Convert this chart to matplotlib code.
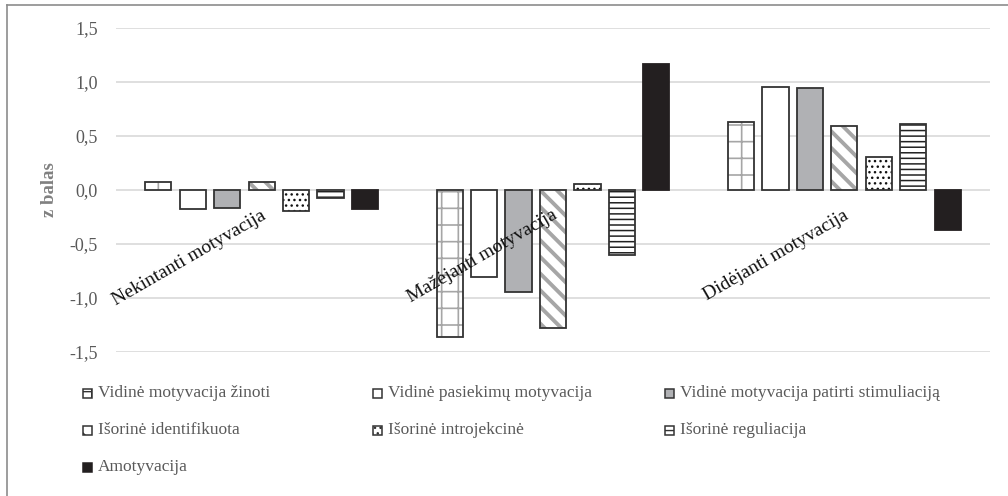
import matplotlib.pyplot as plt
from matplotlib.patches import Rectangle
from matplotlib.lines import Line2D
from matplotlib.ticker import FuncFormatter

plt.rcParams['font.family'] = ['Liberation Serif', 'DejaVu Serif']

# data
categories = ['Nekintanti motyvacija', 'Mažėjanti motyvacija', 'Didėjanti motyvacija']
series_names = ['Vidinė motyvacija žinoti', 'Vidinė pasiekimų motyvacija',
                'Vidinė motyvacija patirti stimuliaciją', 'Išorinė identifikuota',
                'Išorinė introjekcinė', 'Išorinė reguliacija', 'Amotyvacija']
vid_zinoti = [0.07, -1.36, 0.63]
vid_pasiekimu = [-0.18, -0.81, 0.95]
vid_stimuliacija = [-0.17, -0.94, 0.94]
isor_identifikuota = [0.07, -1.28, 0.59]
isor_introjekcine = [-0.19, 0.06, 0.31]
isor_reguliacija = [-0.07, -0.60, 0.61]
amotyvacija = [-0.18, 1.17, -0.37]
y_ticks = [-1.5, -1.0, -0.5, 0.0, 0.5, 1.0, 1.5]

values = [vid_zinoti, vid_pasiekimu, vid_stimuliacija, isor_identifikuota,
          isor_introjekcine, isor_reguliacija, amotyvacija]

# look of each series: fill, hatch, hatch colour, hatch width
styles = [
    ('white', '+', '#a6a6a6', 1.2),
    ('white', None, None, 1.0),
    ('#b0b1b4', None, None, 1.0),
    ('white', '\\\\', '#a6a6a6', 2.8),
    ('white', '...', '#111111', 1.0),
    ('white', '---', '#222222', 1.1),
    ('#231f20', None, None, 1.0),
]
edge = '#333333'
text_grey = '#595959'

fig = plt.figure(figsize=(10.08, 4.96), dpi=100)
ax = fig.add_axes([116 / 1008, 1 - 352 / 496, 874 / 1008, 324 / 496])

step = 0.1182
width = 0.09
x = list(range(len(categories)))
for i, (vals, (fc, hatch, hcol, hlw)) in enumerate(zip(values, styles)):
    pos = [c + (i - 3) * step for c in x]
    if hatch:
        with plt.rc_context({'hatch.linewidth': hlw}):
            ax.bar(pos, vals, width, color=fc, hatch=hatch, edgecolor=hcol, linewidth=0, zorder=2)
        ax.bar(pos, vals, width, color='none', edgecolor=edge, linewidth=1.3, zorder=3)
    else:
        ec = '#231f20' if fc == '#231f20' else edge
        ax.bar(pos, vals, width, color=fc, edgecolor=ec, linewidth=1.3, zorder=3)

ax.set_xlim(-0.5, 2.5)
ax.set_ylim(-1.5, 1.5)
ax.set_yticks(y_ticks)
ax.yaxis.set_major_formatter(FuncFormatter(lambda v, p: f'{v:.1f}'.replace('.', ',')))
ax.tick_params(axis='y', length=0, pad=13, labelsize=13, labelcolor=text_grey)
ax.set_xticks([])
ax.grid(axis='y', color='#d9d9d9', linewidth=1.2, zorder=0)
ax.set_axisbelow(True)
for s in ax.spines.values():
    s.set_visible(False)

ax.set_ylabel('z balas', fontsize=13.5, fontweight='bold', color='#808080')
ax.yaxis.set_label_coords(-0.066, 0.5)

for c, name in zip(x, categories):
    ax.annotate(name, (c, 0), xytext=(-1, -12), textcoords='offset points',
                rotation=30, rotation_mode='anchor', ha='right', va='top',
                fontsize=14, color='#111111')

# legend laid out like the original: three equal columns
col_x = [83, 373, 665]
row_y = [393, 430, 467]
for k, (name, (fc, hatch, hcol, hlw)) in enumerate(zip(series_names, styles)):
    px = col_x[k % 3]
    py = row_y[k // 3]
    sq = Rectangle((px / 1008, 1 - (py + 4.5) / 496), 9 / 1008, 9 / 496,
                   transform=fig.transFigure, facecolor=fc, hatch=hatch,
                   edgecolor=edge if fc != '#231f20' else '#231f20', linewidth=1.1)
    fig.add_artist(sq)
    fig.text((px + 15) / 1008, 1 - py / 496, name, fontsize=12.5, color=text_grey,
             ha='left', va='center')

# chart border (only top and left edges are inside the crop)
fig.add_artist(Line2D([7 / 1008, 7 / 1008], [0, 1 - 5 / 496], transform=fig.transFigure,
                      color='#8c8c8c', linewidth=1.2))
fig.add_artist(Line2D([7 / 1008, 1], [1 - 5 / 496, 1 - 5 / 496], transform=fig.transFigure,
                      color='#8c8c8c', linewidth=1.2))

fig.savefig('out.png', dpi=100)
